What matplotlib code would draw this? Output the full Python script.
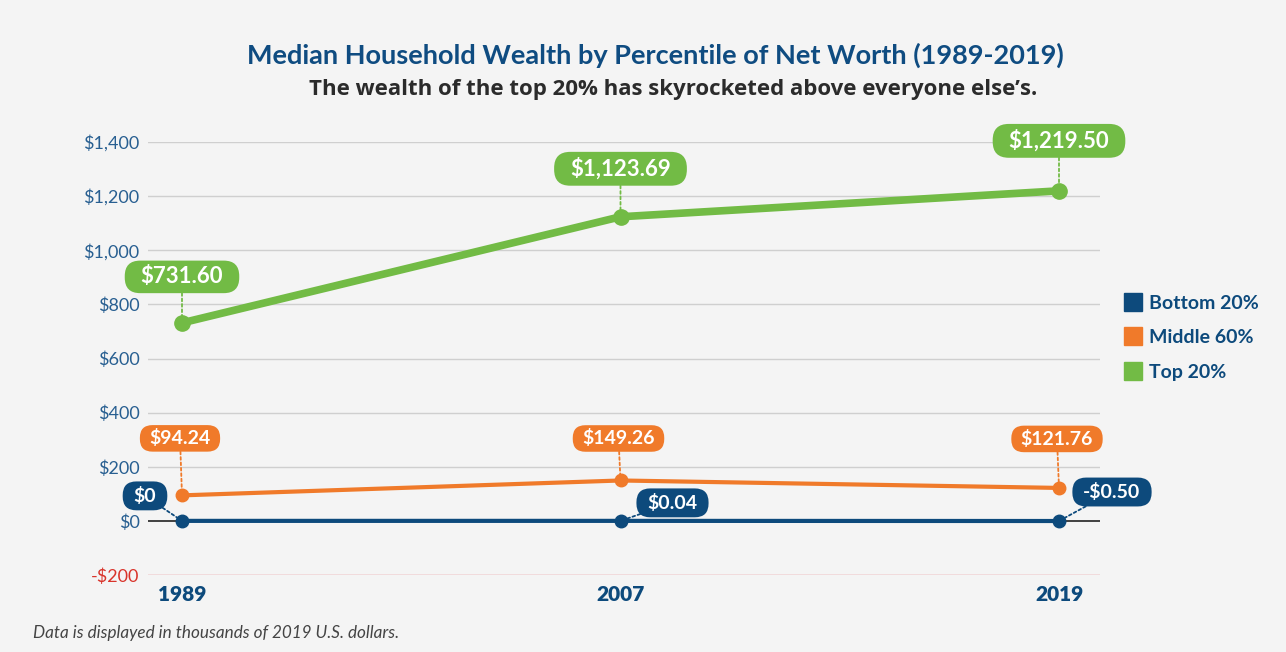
import matplotlib
matplotlib.use("Agg")
import matplotlib.pyplot as plt
from matplotlib.lines import Line2D
from matplotlib.patches import BoxStyle

years = ["1989", "2007", "2019"]
bottom20 = [0.0, 0.04, -0.50]
middle60 = [94.24, 149.26, 121.76]
top20 = [731.60, 1123.69, 1219.50]
series_names = ["Bottom 20%", "Middle 60%", "Top 20%"]
bottom_labels = ["$0", "$0.04", "-$0.50"]
middle_labels = ["$94.24", "$149.26", "$121.76"]
top_labels = ["$731.60", "$1,123.69", "$1,219.50"]
yticks = [-200, 0, 200, 400, 600, 800, 1000, 1200, 1400]
ytick_labels = ["-$200", "$0", "$200", "$400", "$600", "$800", "$1,000", "$1,200", "$1,400"]

BG = "#f4f4f4"
BLUE = "#0d4a7c"
ORANGE = "#f07a2a"
GREEN = "#72bb45"
TICKBLUE = "#285f91"
RED = "#d9342b"

plt.rcParams["font.family"] = ["Lato", "DejaVu Sans"]

fig = plt.figure(figsize=(12.86, 6.52), dpi=100, facecolor=BG)
ax = fig.add_axes([148/1286, 1-575/652, (1100-148)/1286, (575-142)/652], facecolor=BG)

x = list(range(len(years)))
ax.set_xlim(-34/438.5, 2 + 41/438.5)
ax.set_ylim(-200, 1400)

for v in yticks:
    if v == -200:
        ax.axhline(v, color="#e8777c", lw=1, zorder=1)
    elif v == 0:
        ax.axhline(v, color="#222222", lw=1.2, zorder=1)
    else:
        ax.axhline(v, color="#cfcfcf", lw=1, zorder=1)

ax.plot(x, top20, color=GREEN, lw=5.5, marker="o", ms=11, zorder=4, solid_capstyle="round")
ax.plot(x, middle60, color=ORANGE, lw=3, marker="o", ms=9, zorder=3)
ax.plot(x, bottom20, color=BLUE, lw=3, marker="o", ms=9, zorder=3)


def pill(padx_px, pady_frac):
    def style(x0, y0, width, height, mutation_size):
        extra = padx_px * fig.dpi / 100.0 - pady_frac * mutation_size
        pad = pady_frac * mutation_size
        r = (height + 2 * pad) / 2.0 * 0.95
        rs = r / mutation_size
        return BoxStyle.Round(pad=pady_frac, rounding_size=rs)(
            x0 - extra, y0, width + 2 * extra, height, mutation_size)
    return style


def label(xi, yi, txt, color, off, fs, padx, pady):
    ax.annotate(txt, xy=(xi, yi), xytext=off, textcoords="offset pixels",
                ha="center", va="center", color="white", fontsize=fs, fontweight="bold",
                bbox=dict(boxstyle=pill(padx, pady), fc=color, ec="none"),
                arrowprops=dict(arrowstyle="-", linestyle=(0, (1.5, 1.5)), color=color, lw=1.3,
                                shrinkA=0, shrinkB=2),
                zorder=6, annotation_clip=False)

top_off = [(0, 46), (0, 48), (0, 50)]
mid_off = [(-2, 57), (-2, 42), (-2, 49)]
bot_off = [(-37, 25), (52, 18), (53, 29)]
for i in x:
    label(i, top20[i], top_labels[i], GREEN, top_off[i], 16, 16, 0.26)
    label(i, middle60[i], middle_labels[i], ORANGE, mid_off[i], 14, 9.5, 0.22)
    label(i, bottom20[i], bottom_labels[i], BLUE, bot_off[i], 14, 11, 0.28)

ax.set_yticks(yticks)
ax.set_yticklabels(ytick_labels, fontsize=13)
for t, v in zip(ax.get_yticklabels(), yticks):
    t.set_color(RED if v == -200 else TICKBLUE)
ax.set_xticks(x)
ax.set_xticklabels(years, fontsize=15, fontweight="heavy", color=BLUE)
ax.tick_params(axis="y", length=0, pad=6)
ax.tick_params(axis="x", length=0, pad=7)
for s in ax.spines.values():
    s.set_visible(False)

handles = [Line2D([], [], marker="s", ls="none", ms=12.5, color=c) for c in (BLUE, ORANGE, GREEN)]
leg = fig.legend(handles, series_names, loc="upper left", bbox_to_anchor=(1115/1286, 1-285/652),
                 frameon=False, fontsize=14, handlelength=0.8, handletextpad=0.45,
                 labelspacing=0.9, borderpad=0)
for t in leg.get_texts():
    t.set_color(BLUE)
    t.set_fontweight("bold")

fig.text(655/1286, 1-55/652, "Median Household Wealth by Percentile of Net Worth (1989-2019)",
         ha="center", va="center", fontsize=19.5, fontweight="bold", color="#0f4c81")
fig.text(673/1286, 1-90/652, "The wealth of the top 20% has skyrocketed above everyone else\u2019s.",
         ha="center", va="center", fontsize=16, fontweight="bold", color="#2b2b2b",
         family=["Open Sans", "DejaVu Sans"])
fig.text(33/1286, 1-633/652, "Data is displayed in thousands of 2019 U.S. dollars.",
         ha="left", va="center", fontsize=12.3, style="italic", color="#444444")

fig.savefig("out.png", dpi=100, facecolor=BG)
